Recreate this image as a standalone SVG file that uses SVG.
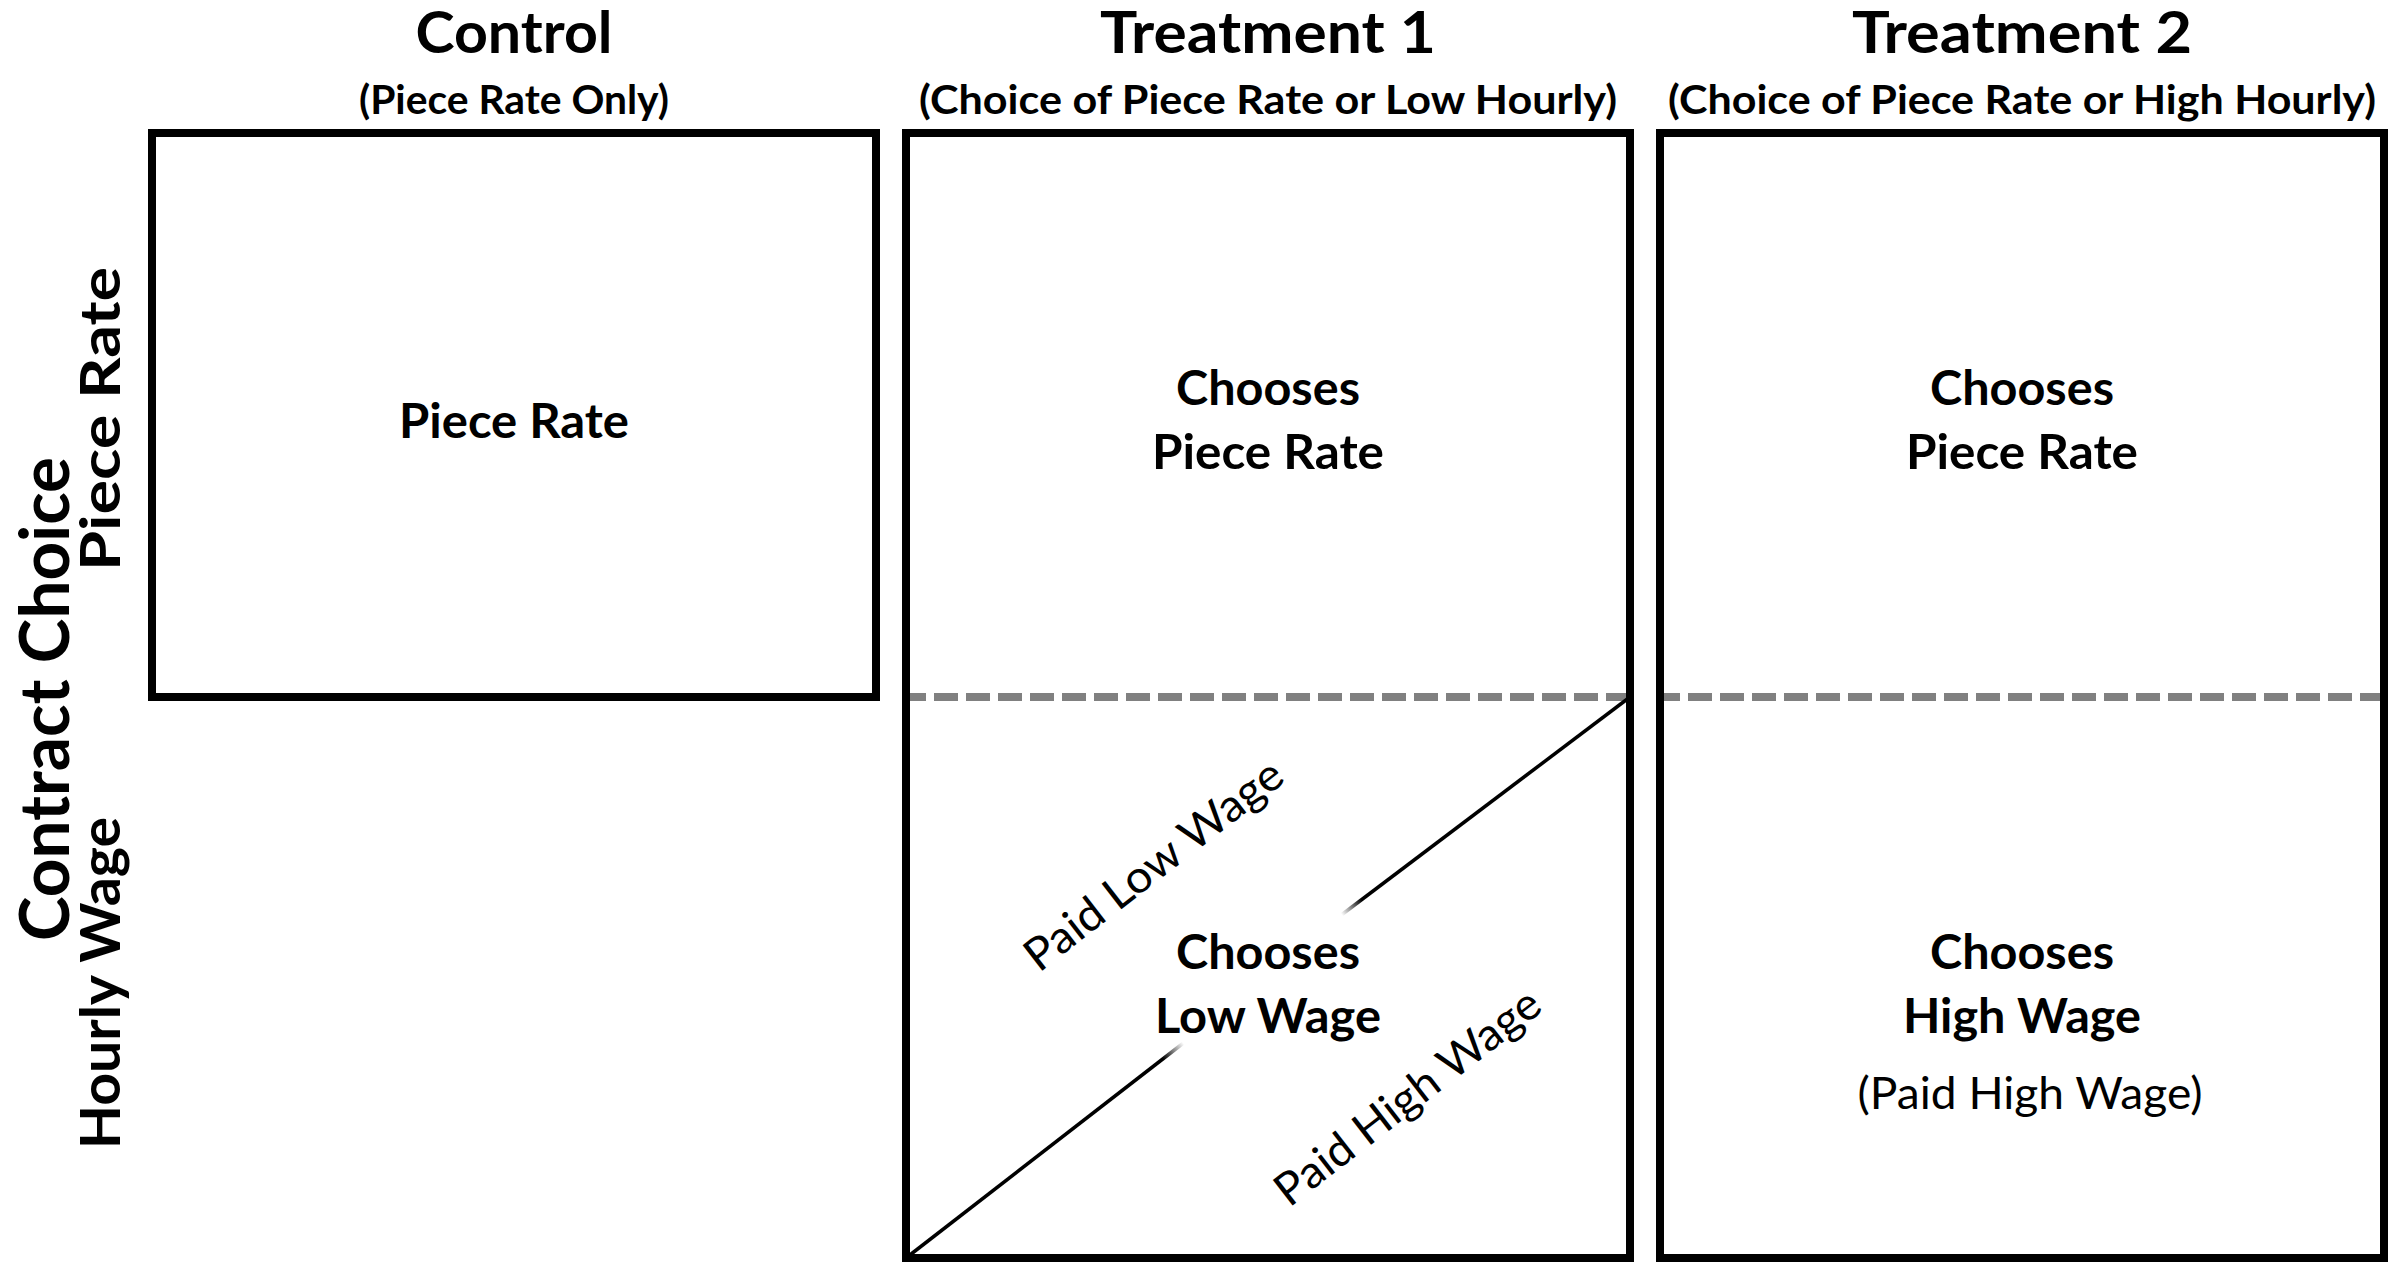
<svg xmlns="http://www.w3.org/2000/svg" width="2403" height="1262" viewBox="0 0 2403 1262">
  <style>
    text { font-family: Lato, Carlito, "Liberation Sans", sans-serif; fill: #000; text-anchor: middle; }
    .title { font-size: 58px; font-weight: 700; }
    .sub { font-size: 40px; font-weight: 700; }
    .axis-main { font-size: 68px; font-weight: 700; }
    .axis { font-size: 56px; font-weight: 700; }
    .cell { font-size: 47px; font-weight: 700; }
    .note { font-size: 45px; font-weight: 400; }
    .box { fill: none; stroke: #000; stroke-width: 8; }
    .split { stroke: #808080; stroke-width: 8; stroke-dasharray: 24 8; fill: none; }
  </style>
  <defs>
    <!-- diagonal fades out where it meets the centre label -->
    <linearGradient id="fadeLow" gradientUnits="userSpaceOnUse" x1="1164" y1="1060" x2="1184" y2="1044">
      <stop offset="0" stop-color="#000" stop-opacity="1"/>
      <stop offset="1" stop-color="#000" stop-opacity="0"/>
    </linearGradient>
    <linearGradient id="fadeHigh" gradientUnits="userSpaceOnUse" x1="1362" y1="900" x2="1342" y2="915">
      <stop offset="0" stop-color="#000" stop-opacity="1"/>
      <stop offset="1" stop-color="#000" stop-opacity="0"/>
    </linearGradient>
  </defs>
  <rect width="2403" height="1262" fill="#fff"/>

  <!-- column headings -->
  <g id="headings">
    <text class="title" x="514" y="53" textLength="197" lengthAdjust="spacingAndGlyphs">Control</text>
    <text class="sub" x="514" y="114" textLength="310" lengthAdjust="spacingAndGlyphs">(Piece Rate Only)</text>
    <text class="title" x="1268" y="53" textLength="336" lengthAdjust="spacingAndGlyphs">Treatment 1</text>
    <text class="sub" x="1268" y="114" textLength="698" lengthAdjust="spacingAndGlyphs">(Choice of Piece Rate or Low Hourly)</text>
    <text class="title" x="2022" y="53" textLength="340" lengthAdjust="spacingAndGlyphs">Treatment 2</text>
    <text class="sub" x="2022" y="114" textLength="708" lengthAdjust="spacingAndGlyphs">(Choice of Piece Rate or High Hourly)</text>
  </g>

  <!-- row axis labels -->
  <g id="axis">
    <text class="axis-main" transform="translate(69,699) rotate(-90)" textLength="484" lengthAdjust="spacingAndGlyphs">Contract Choice</text>
    <text class="axis" transform="translate(120,419) rotate(-90)" textLength="304" lengthAdjust="spacingAndGlyphs">Piece Rate</text>
    <text class="axis" transform="translate(120,983) rotate(-90)" textLength="332" lengthAdjust="spacingAndGlyphs">Hourly Wage</text>
  </g>

  <!-- dividers between piece-rate and hourly rows -->
  <g id="connectors">
    <line class="split" x1="902" y1="697" x2="1634" y2="697"/>
    <line class="split" x1="1656" y1="697" x2="2388" y2="697"/>
    <line x1="906" y1="1258" x2="1186" y2="1041" stroke="url(#fadeLow)" stroke-width="3.5"/>
    <line x1="1340" y1="916" x2="1630" y2="697" stroke="url(#fadeHigh)" stroke-width="3.5"/>
  </g>

  <g id="control">
    <rect class="box" x="152" y="133" width="724" height="564"/>
    <text class="cell" x="514" y="438" textLength="230" lengthAdjust="spacingAndGlyphs">Piece Rate</text>
  </g>

  <g id="treatment1">
    <rect class="box" x="906" y="133" width="724" height="1125"/>
    <text class="cell" x="1268" y="405" textLength="184" lengthAdjust="spacingAndGlyphs">Chooses</text>
    <text class="cell" x="1268" y="469" textLength="232" lengthAdjust="spacingAndGlyphs">Piece Rate</text>
    <text class="cell" x="1268" y="969" textLength="184" lengthAdjust="spacingAndGlyphs">Chooses</text>
    <text class="cell" x="1268" y="1033" textLength="226" lengthAdjust="spacingAndGlyphs">Low Wage</text>
    <text class="note" transform="translate(1163,877) rotate(-37.77)" textLength="314" lengthAdjust="spacingAndGlyphs">Paid Low Wage</text>
    <text class="note" transform="translate(1417,1109) rotate(-37.77)" textLength="323" lengthAdjust="spacingAndGlyphs">Paid High Wage</text>
  </g>

  <g id="treatment2">
    <rect class="box" x="1660" y="133" width="724" height="1125"/>
    <text class="cell" x="2022" y="405" textLength="184" lengthAdjust="spacingAndGlyphs">Chooses</text>
    <text class="cell" x="2022" y="469" textLength="232" lengthAdjust="spacingAndGlyphs">Piece Rate</text>
    <text class="cell" x="2022" y="969" textLength="184" lengthAdjust="spacingAndGlyphs">Chooses</text>
    <text class="cell" x="2022" y="1033" textLength="238" lengthAdjust="spacingAndGlyphs">High Wage</text>
    <text class="note" x="2030" y="1109" textLength="345" lengthAdjust="spacingAndGlyphs">(Paid High Wage)</text>
  </g>
</svg>
